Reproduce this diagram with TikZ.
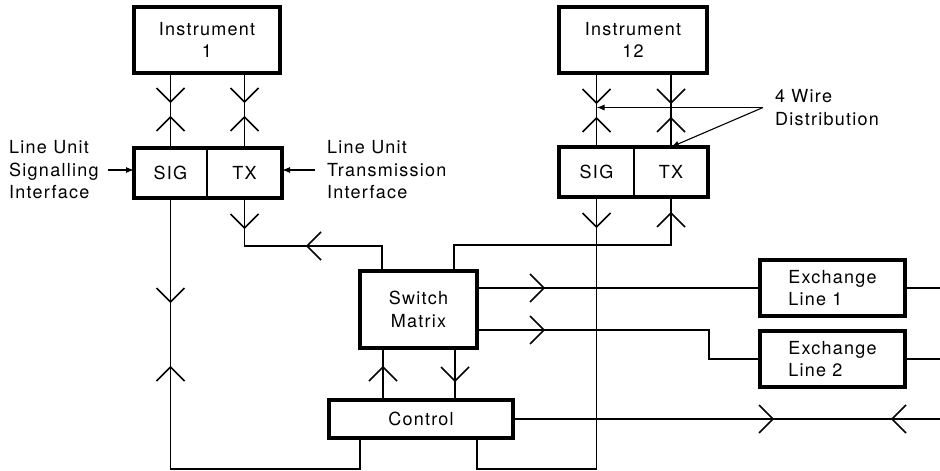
\documentclass[tikz,border=0pt]{standalone}
\usepackage{fontspec}
\setmainfont{TeX Gyre Heros}[LetterSpace=7]
\usetikzlibrary{decorations.markings,arrows.meta,calc}
\begin{document}
\begin{tikzpicture}[x=1pt,y=-1pt, font=\fontsize{18}{22.5}\selectfont,
 box/.style={draw, line width=3.5pt, inner sep=0pt, outer sep=0pt, align=center},
 half/.style={draw, line width=2pt, inner sep=0pt, outer sep=0pt, minimum height=50pt},
 wire/.style={line width=1.3pt},
 cf/.style={postaction={decorate,decoration={markings,mark=at position #1 with {\draw[line width=1.7pt] (-14pt,14pt)--(0pt,0pt)--(-14pt,-14pt);}}}},
 cb/.style={postaction={decorate,decoration={markings,mark=at position #1 with {\draw[line width=1.7pt] (14pt,14pt)--(0pt,0pt)--(14pt,-14pt);}}}},
 ptr/.style={line width=1.1pt, -{Latex[length=8pt,width=6pt]}},
 lbl/.style={align=left, inner ysep=2pt}
]
\fill[white] (0,0) rectangle (940,471);
\useasboundingbox (0,0) rectangle (940,471);

% boxes
\node[box, minimum width=146pt, minimum height=66pt] (inst1) at (207,40) {Instrument\\1};
\node[box, minimum width=148pt, minimum height=66pt] (inst12) at (633,40) {Instrument\\12};

\node[half, minimum width=73pt] (sig1) at (170.5,173) {SIG};
\node[half, minimum width=75pt] (tx1) at (244.5,173) {TX};
\draw[line width=3.5pt] (sig1.north west) rectangle (tx1.south east);

\node[half, minimum width=75pt] (sig12) at (596.5,172) {SIG};
\node[half, minimum width=74pt] (tx12) at (671,172) {TX};
\draw[line width=3.5pt] (sig12.north west) rectangle (tx12.south east);

\node[box, minimum width=117pt, minimum height=77pt] (sw) at (418.5,309.5) {Switch\\Matrix};
\node[box, minimum width=184pt, minimum height=38pt] (ctrl) at (421,419) {Control};
\node[box, align=left, minimum width=145pt, minimum height=56pt] (ex1) at (832.5,288) {Exchange\\Line 1};
\node[box, align=left, minimum width=145pt, minimum height=56pt] (ex2) at (832.5,359) {Exchange\\Line 2};

% labels
\node[lbl, anchor=west, inner xsep=4pt] (lsig) at (5,170) {Line Unit\\Signalling\\Interface};
\node[lbl, anchor=west, inner xsep=12pt] (ltx) at (315,170) {Line Unit\\Transmission\\Interface};
\node[lbl, anchor=west, inner xsep=12pt] (lwire) at (763,107.5) {4 Wire\\Distribution};

% coordinates
\coordinate (cb1) at (360,469);
\coordinate (cb2) at (477,469);
\coordinate (ctop1) at (382,246);
\coordinate (ctop2) at (454,245);
\coordinate (m1) at (383,380);
\coordinate (m2) at (455,380);
\coordinate (k2) at (709,330);
\coordinate (e1) at (940,288);

% instrument to line units
\draw[wire, cf=29pt, cb=44pt] (inst1.south -| sig1.north) -- (sig1.north);
\draw[wire, cf=29pt, cb=44pt] (inst1.south -| tx1.north) -- (tx1.north);
\draw[wire, cf=30pt, cb=45pt] (inst12.south -| sig12.north) -- (sig12.north);
\draw[wire, cf=30pt, cb=45pt] (inst12.south -| tx12.north) -- (tx12.north);

% signalling paths
\draw[wire, cf=104pt, cb=169pt] (sig1.south) |- (cb1) -- (cb1 |- ctrl.south);
\draw[wire, cf=30pt] (sig12.south) |- (cb2) -- (cb2 |- ctrl.south);

% transmission paths
\draw[wire, cf=30pt, cb=110.5pt] (tx1.south) |- (ctop1) -- (ctop1 |- sw.north);
\draw[wire, cf=275pt] (ctop2 |- sw.north) -- (ctop2) -| (tx12.south);

% switch <-> control
\draw[wire, cf=33pt] (m1 |- ctrl.north) -- (m1 |- sw.south);
\draw[wire, cf=33pt] (m2 |- sw.south) -- (m2 |- ctrl.north);

% exchange lines
\draw[wire, cf=67pt] (sw.east |- ex1.west) -- (ex1.west);
\draw[wire, cf=67pt] (sw.east |- k2) -- (k2) |- (ex2.west);
\draw[wire] (ex1.east) -- (e1);
\draw[wire] (ex2.east) -- (ex2.east -| e1);
\draw[wire, cf=260pt, cb=379pt] (ctrl.east) -- (ctrl.east -| e1);

% label pointers
\draw[ptr, shorten <=5pt] (lsig.east) -- (lsig.east -| sig1.west);
\draw[ptr] (ltx.west) -- (ltx.west -| tx1.east);
\draw[ptr] (lwire.west) -- (lwire.west -| sig12.north);
\draw[ptr] (lwire.west) -- (tx12.north);
\end{tikzpicture}
\end{document}
